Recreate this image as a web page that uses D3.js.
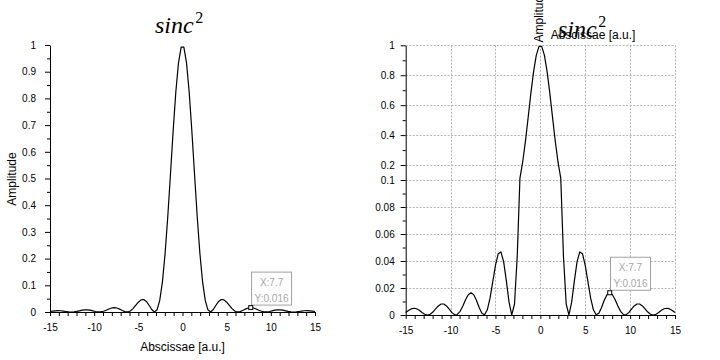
<!DOCTYPE html>
<html>
<head>
<meta charset="utf-8">
<script src="https://cdn.jsdelivr.net/npm/d3@7"></script>
<style>
  html, body { margin: 0; padding: 0; background: #fff; }
  svg { display: block; }
  text { font-family: "Liberation Sans", Arial, sans-serif; }
</style>
</head>
<body>
<svg id="chart" width="720" height="360"></svg>
<script>
// ---- data ----
const abscissae = [
  -15.000, -14.697, -14.394, -14.091, -13.788, -13.485, -13.182, -12.879, -12.576, -12.273,
  -11.970, -11.667, -11.364, -11.061, -10.758, -10.455, -10.152, -9.848, -9.545, -9.242,
  -8.939, -8.636, -8.333, -8.030, -7.727, -7.424, -7.121, -6.818, -6.515, -6.212,
  -5.909, -5.606, -5.303, -5.000, -4.697, -4.394, -4.091, -3.788, -3.485, -3.182,
  -2.879, -2.576, -2.273, -1.970, -1.667, -1.364, -1.061, -0.758, -0.455, -0.152,
  0.152, 0.455, 0.758, 1.061, 1.364, 1.667, 1.970, 2.273, 2.576, 2.879,
  3.182, 3.485, 3.788, 4.091, 4.394, 4.697, 5.000, 5.303, 5.606, 5.909,
  6.212, 6.515, 6.818, 7.121, 7.424, 7.727, 8.030, 8.333, 8.636, 8.939,
  9.242, 9.545, 9.848, 10.152, 10.455, 10.758, 11.061, 11.364, 11.667, 11.970,
  12.273, 12.576, 12.879, 13.182, 13.485, 13.788, 14.091, 14.394, 14.697, 15.000
];
const amplitude = [
  0.00188, 0.003324, 0.004515, 0.005026, 0.004644, 0.003473, 0.001918, 0.00057, 0.0000006, 0.000556,
  0.002204, 0.004506, 0.006742, 0.00814, 0.008161, 0.006723, 0.004284, 0.001743, 0.000159, 0.000385,
  0.002724, 0.006744, 0.01134, 0.01503, 0.01648, 0.01499, 0.01090, 0.005591, 0.001245, 0.00013,
  0.003825, 0.01249, 0.02453, 0.03678, 0.04532, 0.04672, 0.03950, 0.02528, 0.009327, 0.00016,
  0.008144, 0.04332, 0.1129, 0.2189, 0.3567, 0.5150, 0.6770, 0.8228, 0.9330, 0.9924,
  0.9924, 0.9330, 0.8228, 0.6770, 0.5150, 0.3567, 0.2189, 0.1129, 0.04332, 0.008144,
  0.00016, 0.009327, 0.02528, 0.03950, 0.04672, 0.04532, 0.03678, 0.02453, 0.01249, 0.003825,
  0.00013, 0.001245, 0.005591, 0.01090, 0.01499, 0.01648, 0.01503, 0.01134, 0.006744, 0.002724,
  0.000385, 0.000159, 0.001743, 0.004284, 0.006723, 0.008161, 0.00814, 0.006742, 0.004506, 0.002204,
  0.000556, 0.0000006, 0.00057, 0.001918, 0.003473, 0.004644, 0.005026, 0.004515, 0.003324, 0.00188
];
const xTicks = [-15, -10, -5, 0, 5, 10, 15];
const yTicksLeft = [0, 0.1, 0.2, 0.3, 0.4, 0.5, 0.6, 0.7, 0.8, 0.9, 1];
const yTicksLow = [0, 0.02, 0.04, 0.06, 0.08, 0.1];
const yTicksHigh = [0.2, 0.4, 0.6, 0.8, 1];
const yBreak = 0.1;
const tipX = 7.7;
const tipLabels = ["X:7.7", "Y:0.016"];
const titleMain = "sinc";
const titleSup = "2";
const xLabel = "Abscissae [a.u.]";
const yLabel = "Amplitude";

// ---- drawing ----
const svg = d3.select("#chart");
svg.append("rect").attr("width", 720).attr("height", 360).attr("fill", "#fff");

const points = abscissae.map((x, i) => ({ x, y: amplitude[i] }));
const tipIndex = d3.minIndex(abscissae, x => Math.abs(x - tipX));
const xMinor = d3.range(-15, 16, 1);

function fmt(d) { return String(+d.toFixed(3)); }

function drawAnnotation(g, x, y) {
  const p = points[tipIndex];
  const mx = x(p.x), my = y(p.y);
  const bw = 40, bh = 33;
  const bx = mx + 0.8, by = my - 2.5 - bh;
  g.append("rect").attr("x", bx).attr("y", by).attr("width", bw).attr("height", bh)
    .attr("fill", "#fff").attr("stroke", "#a0a0a0").attr("stroke-width", 1);
  g.append("text").attr("x", bx + bw / 2).attr("y", by + 13.5).attr("text-anchor", "middle")
    .attr("font-size", 10).attr("fill", "#a8a8a8").text(tipLabels[0]);
  g.append("text").attr("x", bx + bw / 2).attr("y", by + 29.5).attr("text-anchor", "middle")
    .attr("font-size", 10).attr("fill", "#a8a8a8").text(tipLabels[1]);
  g.append("rect").attr("x", mx - 2).attr("y", my - 2).attr("width", 4).attr("height", 4)
    .attr("fill", "#fff").attr("stroke", "#000").attr("stroke-width", 1);
}

function drawTitle(x, y) {
  const t = svg.append("text").attr("x", x).attr("y", y)
    .style("font-family", '"Liberation Serif", "DejaVu Serif", serif');
  t.append("tspan").attr("font-size", 24).attr("font-style", "italic").text(titleMain);
  t.append("tspan").attr("font-size", 16).attr("dx", 1.5).attr("dy", -10).text(titleSup);
}

function styleAxis(g) {
  g.selectAll("path.domain").attr("stroke", "#000").attr("stroke-width", 1);
  g.selectAll(".tick line").attr("stroke", "#000").attr("stroke-width", 1);
  g.selectAll("text").attr("font-size", 10).attr("fill", "#000")
    .style("font-family", '"Liberation Sans", Arial, sans-serif');
}

// ===== Left panel =====
{
  const x = d3.scaleLinear([-15, 15], [50, 315]);
  const y = d3.scaleLinear([0, 1], [312, 45]);
  const g = svg.append("g");

  // minor y ticks
  const yMinor = d3.range(0.05, 1, 0.1);
  g.append("g").attr("transform", "translate(50,0)")
    .call(d3.axisLeft(y).tickValues(yMinor).tickSize(3).tickFormat(""))
    .call(styleAxis).call(a => a.select(".domain").remove());
  g.append("g").attr("transform", "translate(50,0)")
    .call(d3.axisLeft(y).tickValues(yTicksLeft).tickSize(5).tickSizeOuter(0).tickPadding(9).tickFormat(fmt))
    .call(styleAxis);

  g.append("g").attr("transform", "translate(0,312)")
    .call(d3.axisBottom(x).tickValues(xMinor).tickSize(4).tickSizeOuter(0).tickPadding(8)
      .tickFormat(d => xTicks.includes(d) ? d : ""))
    .call(styleAxis);

  g.append("path").datum(points)
    .attr("d", d3.line().x(d => x(d.x)).y(d => y(d.y)))
    .attr("fill", "none").attr("stroke", "#000").attr("stroke-width", 1.2)
    .attr("stroke-linejoin", "round");

  drawAnnotation(g, x, y);

  svg.append("text").attr("x", 182.5).attr("y", 351).attr("text-anchor", "middle")
    .attr("font-size", 12).text(xLabel);
  svg.append("text").attr("transform", "translate(15.5,179) rotate(-90)").attr("text-anchor", "middle")
    .attr("font-size", 12).text(yLabel);
  drawTitle(155, 33);
}

// ===== Right panel (broken y axis) =====
{
  const x = d3.scaleLinear([-15, 15], [405.7, 675]);
  const y = d3.scaleLinear([0, yBreak, 1], [315, 180, 45.3]);
  const g = svg.append("g");

  // grid
  const gridY = yTicksLow.filter(v => v > 0).concat(yTicksHigh);
  g.append("g").selectAll("line").data(gridY).join("line")
    .attr("x1", x(-15)).attr("x2", x(15)).attr("y1", d => Math.round(y(d)) + 0.5).attr("y2", d => Math.round(y(d)) + 0.5)
    .attr("stroke", "#b4b4b4").attr("stroke-width", 1).attr("stroke-dasharray", "2,1.5");
  g.append("g").selectAll("line").data(xTicks.filter(v => v > -15)).join("line")
    .attr("x1", d => Math.round(x(d)) + 0.5).attr("x2", d => Math.round(x(d)) + 0.5).attr("y1", y(1)).attr("y2", y(0))
    .attr("stroke", "#b4b4b4").attr("stroke-width", 1).attr("stroke-dasharray", "2,1.5");

  const yMinorLow = d3.range(0.01, 0.1, 0.02);
  const yMinorHigh = d3.range(0.3, 1, 0.2);
  g.append("g").attr("transform", "translate(405.7,0)")
    .call(d3.axisLeft(y).tickValues(yMinorLow.concat(yMinorHigh)).tickSize(3).tickFormat(""))
    .call(styleAxis).call(a => a.select(".domain").remove());
  g.append("g").attr("transform", "translate(405.7,0)")
    .call(d3.axisLeft(y).tickValues(yTicksLow.concat(yTicksHigh)).tickSize(5).tickSizeOuter(0).tickPadding(6).tickFormat(fmt))
    .call(styleAxis);

  g.append("g").attr("transform", "translate(0,315)")
    .call(d3.axisBottom(x).tickValues(xMinor).tickSize(4).tickSizeOuter(0).tickPadding(8)
      .tickFormat(d => xTicks.includes(d) ? d : ""))
    .call(styleAxis);

  g.append("path").datum(points)
    .attr("d", d3.line().x(d => x(d.x)).y(d => y(d.y)))
    .attr("fill", "none").attr("stroke", "#000").attr("stroke-width", 1.2)
    .attr("stroke-linejoin", "round");

  drawAnnotation(g, x, y);

  drawTitle(558, 37);
  svg.append("text").attr("x", 593).attr("y", 39).attr("text-anchor", "middle")
    .attr("font-size", 12).text(xLabel);
  svg.append("text").attr("transform", "translate(543,42.5) rotate(-90)").attr("text-anchor", "start")
    .attr("font-size", 12).text(yLabel);
}
</script>
</body>
</html>
